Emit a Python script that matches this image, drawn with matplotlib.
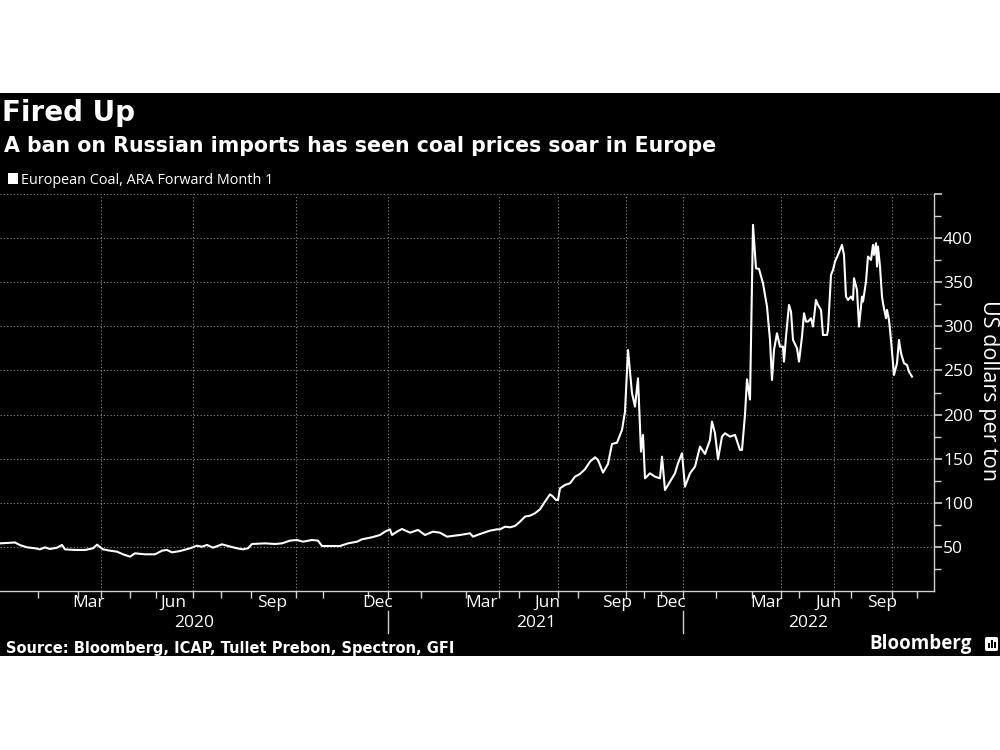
import matplotlib.pyplot as plt
import matplotlib.patches as patches
import matplotlib.transforms as transforms

# observation number (axis is not linear in calendar time) and price in USD/t
obs = [0, 8, 15, 20, 27, 35, 40, 45, 50, 57, 62, 65, 75, 85, 93, 97, 103, 110, 117, 123,
       130, 135, 145, 155, 162, 167, 172, 180, 190, 197, 202, 207, 213, 222, 228, 237, 243,
       248, 252, 265, 275, 282, 290, 297, 303, 312, 318, 322, 330, 340, 348, 357, 362, 372,
       380, 385, 390, 392, 397, 402, 410, 418, 425, 433, 440, 447, 460, 470, 473, 480, 490,
       497, 500, 505, 510, 515, 520, 525, 530, 535, 540, 545, 550, 553, 556, 558, 560, 565,
       570, 575, 580, 585, 590, 595, 598, 603, 608, 612, 617, 622, 625, 628, 632, 635, 638,
       641, 643, 645, 650, 655, 660, 662, 665, 670, 675, 678, 682, 685, 690, 695, 700, 705,
       710, 712, 715, 718, 722, 725, 730, 735, 740, 742, 745, 747, 750, 753, 756, 759, 763,
       767, 770, 772, 774, 777, 780, 783, 784, 786, 789, 791, 793, 797, 799, 802, 804, 806,
       808, 811, 813, 816, 818, 821, 823, 827, 828, 831, 833, 835, 838, 842, 844, 846, 848,
       851, 853, 854, 857, 859, 862, 863, 866, 868, 871, 873, 874, 876, 877, 878, 880, 882,
       883, 886, 887, 889, 891, 894, 897, 899, 901, 904, 907, 909, 912]
price = [54, 54.5, 55, 52, 49.5, 48.4, 47.2, 49.5, 47.6, 49.1, 52.2, 47.2, 46.5, 46.5, 48.4,
         52.5, 47.2, 45.7, 44.6, 41.6, 38.9, 42.7, 41.6, 41.6, 45.7, 46.5, 43.8, 45.3, 48.4,
         51.4, 50.2, 52.2, 49.1, 52.9, 51, 48.4, 47.2, 48.4, 53.3, 54, 53.3, 54, 57.1, 57.8,
         55.9, 57.8, 57.1, 51, 51, 51, 54, 55.9, 58.6, 60.9, 63.5, 67.3, 69.9, 63.5, 67.3,
         70.3, 66.1, 69.2, 63.5, 67.3, 66.1, 61.6, 63.5, 65.4, 61.6, 64.6, 68.4, 69.9, 69.9,
         72.9, 72.2, 73.7, 78.6, 84.3, 85.4, 88.1, 92.6, 101.3, 109.6, 107, 103.2, 103.2,
         116.4, 120.2, 122.1, 129.6, 132.7, 138, 146.6, 151.6, 148.5, 134.2, 144, 166.7,
         168.1, 182.5, 203.3, 273.2, 224.1, 209, 241.1, 158, 176.9, 127.7, 133.4, 129.6,
         127.7, 152.3, 114.5, 124, 133.4, 144.7, 156.1, 118.3, 133.4, 141, 163.7, 155.3,
         171.2, 192, 178.8, 149.3, 175, 178.8, 175, 176.9, 159.9, 159.9, 200, 240, 217, 415,
         365.8, 365, 348.8, 322.4, 284.6, 239.2, 273.2, 292.1, 277, 277, 260, 288.3, 324.3,
         316.7, 284.6, 275.1, 260, 288.3, 314.8, 305.4, 305.4, 309.1, 299.7, 329.9, 324.3,
         318.6, 290.2, 290.2, 295.9, 358.3, 363.9, 373.4, 381, 392.3, 381, 333.7, 329.9,
         333.7, 329.9, 354.5, 341.3, 299.7, 333.7, 328, 350.7, 379.1, 375.3, 392.3, 381,
         394.2, 367.7, 390.4, 367.7, 333.7, 326.2, 309.1, 318.6, 307.3, 284.6, 244.9, 258.2,
         284.6, 269.5, 258.2, 256.2, 248.6, 243]

month_ticks = [37.7, 77.7, 100.7, 130, 155.7, 192.7, 220.7, 250.7, 295.7, 323, 367.7, 388.3,
               420.7, 466, 499, 519, 558.3, 578.3, 626, 644, 661, 683.3, 715.7, 751.7, 781,
               799.3, 834, 851, 891.7, 916.7]
quarter_grid = [100.7, 192.7, 295.7, 388.3, 499, 558.3, 626, 683.3, 781, 834, 891.7]
month_labels = ['Mar', 'Jun', 'Sep', 'Dec', 'Mar', 'Jun', 'Sep', 'Dec', 'Mar', 'Jun', 'Sep']
month_label_pos = [88.5, 173.5, 272, 377.5, 481.5, 547, 616.7, 671, 766, 828, 881.7]
year_labels = ['2020', '2021', '2022']
year_label_pos = [194, 535.7, 808]
year_breaks = [388.3, 683.3]

fg = 'white'
grid_col = '#8a8a8a'
axis_col = '#d0d0d0'
reg = 'Open Sans'
bold = 'DejaVu Sans'

fig = plt.figure(figsize=(10, 7.5), dpi=100)
fig.patch.set_facecolor('white')
fig.add_artist(patches.Rectangle((0, 1 - 656 / 750), 1, (656 - 93) / 750,
                                 transform=fig.transFigure, facecolor='black',
                                 edgecolor='none', zorder=-10))

ax = fig.add_axes([0, 1 - 591 / 750, 0.934, (591 - 194) / 750])
ax.set_facecolor('black')
ax.plot(obs, price, color=fg, lw=1.5, solid_joinstyle='round', zorder=3)

ax.set_xlim(0, 934)
ax.set_ylim(0, 450)

for s in ['top', 'left']:
    ax.spines[s].set_visible(False)
for s in ['bottom', 'right']:
    ax.spines[s].set_color(axis_col)
    ax.spines[s].set_linewidth(1)

# y axis on the right
ax.yaxis.tick_right()
ax.yaxis.set_label_position('right')
ax.set_yticks(range(50, 451, 50))
ax.set_yticklabels(['50', '100', '150', '200', '250', '300', '350', '400', ''])
ax.set_yticks(range(25, 451, 50), minor=True)
ax.tick_params(axis='y', which='major', colors=axis_col, length=6, width=1.2,
               labelcolor=fg, labelsize=12.5, pad=0.5)
ax.tick_params(axis='y', which='minor', colors=axis_col, length=5, width=1)
for lab in ax.get_yticklabels():
    lab.set_fontfamily(reg)

for v in range(50, 451, 50):
    ax.axhline(v, color=grid_col, lw=0.8, ls=(0, (1, 2)), zorder=1)
for q in quarter_grid:
    ax.axvline(q, color=grid_col, lw=0.8, ls=(0, (1, 2)), zorder=1)

# x axis: month ticks, labels centred within the month
ax.set_xticks(month_ticks)
ax.set_xticklabels([])
ax.tick_params(axis='x', colors=axis_col, length=5, width=1, direction='out')

trans = transforms.blended_transform_factory(ax.transData, fig.transFigure)
for lab, pos in zip(month_labels, month_label_pos):
    fig.text(pos, 1 - 603 / 750, lab, transform=trans, color=fg, fontsize=12.5,
             family=reg, ha='center', va='center')
for lab, pos in zip(year_labels, year_label_pos):
    fig.text(pos, 1 - 623 / 750, lab, transform=trans, color=fg, fontsize=12.5,
             family=reg, ha='center', va='center')
for b in year_breaks:
    fig.add_artist(plt.Line2D([b, b], [1 - 611 / 750, 1 - 633 / 750], transform=trans,
                              color=axis_col, lw=1))

fig.text(0.988, 1 - 391 / 750, 'US dollars per ton', rotation=270, color=fg,
         fontsize=15.5, family=reg, ha='center', va='center')

# titles
fig.text(0.002, 1 - 121 / 750, 'Fired Up', color=fg, fontsize=20, weight='bold',
         family=bold, va='baseline')
fig.text(0.004, 1 - 152 / 750, 'A ban on Russian imports has seen coal prices soar in Europe',
         color=fg, fontsize=14.8, weight='bold', family=bold, va='baseline')
fig.add_artist(patches.Rectangle((0.008, 1 - 184 / 750), 0.010, 11 / 750,
                                 transform=fig.transFigure, facecolor=fg, edgecolor='none'))
fig.text(0.021, 1 - 184.3 / 750, 'European Coal, ARA Forward Month 1', color=fg,
         fontsize=10.4, family=reg, va='baseline')

fig.text(0.006, 1 - 653 / 750, 'Source: Bloomberg, ICAP, Tullet Prebon, Spectron, GFI',
         color=fg, fontsize=10.5, weight='bold', family=bold, va='baseline')
fig.text(0.972, 1 - 648.5 / 750, 'Bloomberg', color=fg, fontsize=13.5, weight='bold',
         family=reg, ha='right', va='baseline')

# small logo box
fig.add_artist(patches.FancyBboxPatch((0.985, 1 - 651 / 750), 0.013, 14 / 750,
                                      boxstyle='round,pad=0,rounding_size=0.002',
                                      transform=fig.transFigure, facecolor=fg,
                                      edgecolor='none'))
for i, h in enumerate([5, 8, 6]):
    fig.add_artist(patches.Rectangle((0.9875 + i * 0.0032, 1 - 648 / 750), 0.002, h / 750,
                                     transform=fig.transFigure, facecolor='black',
                                     edgecolor='none'))

fig.savefig('out.png', dpi=100, facecolor=fig.get_facecolor())
